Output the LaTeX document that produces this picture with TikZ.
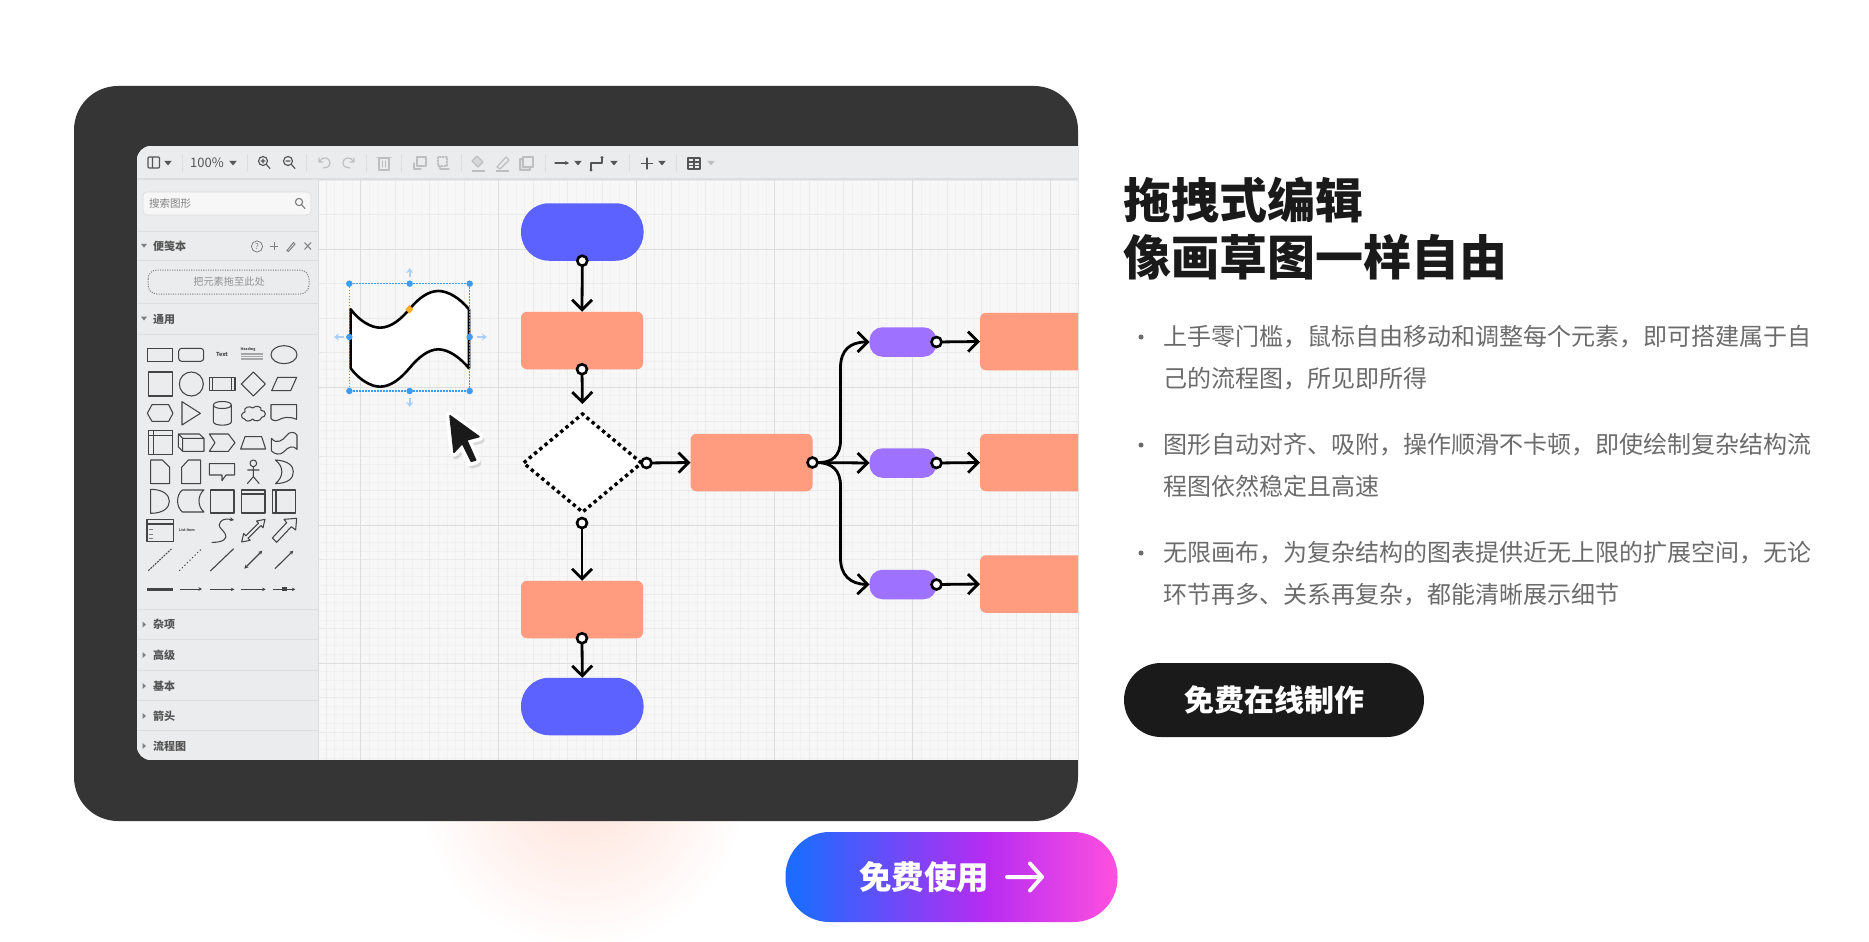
\documentclass[tikz,border=0pt]{standalone}
\usepackage{fontspec}
\usetikzlibrary{arrows.meta,shapes.geometric,shapes.misc}
\setmainfont{Noto Sans CJK SC}
\newcommand{\fs}[1]{\fontsize{#1}{#1}\selectfont}
\definecolor{panel}{HTML}{353535}
\definecolor{canvasbg}{HTML}{F7F7F7}
\definecolor{chrome}{HTML}{EBECED}
\definecolor{rule}{HTML}{DCDDDE}
\definecolor{gridA}{HTML}{F1F1F1}
\definecolor{gridB}{HTML}{EAEAEA}
\definecolor{gridC}{HTML}{DEDEDE}
\definecolor{fblue}{HTML}{5C62FF}
\definecolor{forange}{HTML}{FF9C7F}
\definecolor{fpurple}{HTML}{9E72FF}
\definecolor{selblue}{HTML}{3B9DF5}
\definecolor{ghost}{HTML}{A9D0FA}
\definecolor{ink}{HTML}{1A1A1A}
\definecolor{bodygrey}{HTML}{6B6B6B}
\definecolor{tbon}{HTML}{555555}
\definecolor{tboff}{HTML}{BDBEBF}
\definecolor{shp}{HTML}{444444}
\definecolor{gA}{HTML}{1F6BFF}
\definecolor{gB}{HTML}{B62CF2}
\definecolor{gC}{HTML}{FF50DF}
\pgfdeclarehorizontalshading{ctagrad}{100bp}{color(0bp)=(gA); color(27bp)=(gA); color(55bp)=(gB); color(75bp)=(gC); color(100bp)=(gC)}
\tikzset{
 flat/.style={rectangle,inner sep=0pt,outer sep=0pt,draw=none},
 startnode/.style={flat,fill=fblue,minimum width=122.5pt,minimum height=57.5pt,rounded corners=28pt},
 procnode/.style={flat,fill=forange,minimum width=122pt,minimum height=57.5pt,rounded corners=6pt},
 subnode/.style={flat,fill=fpurple,minimum width=67pt,minimum height=29.5pt,rounded corners=13pt},
 decnode/.style={diamond,shape aspect=1.22,inner sep=0pt,outer sep=0pt,fill=white,draw=black,line width=3.4pt,dash pattern=on 3.4pt off 3.4pt,minimum width=118pt,minimum height=98pt},
 port/.style={circle,fill=white,draw=black,line width=2.6pt,inner sep=0pt,outer sep=0pt,minimum size=10pt},
 conn/.style={line width=2.8pt,draw=black,line cap=round,line join=round,-{Straight Barb[length=10pt,width=20pt,line width=2.8pt]}},
 txt/.style={inner sep=0pt,outer sep=0pt},
 sechead/.style={txt,anchor=west,text=tbon,font=\fs{11}\bfseries},
 bodyline/.style={txt,anchor=west,text=bodygrey,font=\fs{24}},
 headline/.style={txt,anchor=west,text=ink,font=\fs{48}\bfseries},
 bulletdot/.style={circle,fill=bodygrey,inner sep=0pt,minimum size=5pt},
 handle/.style={circle,fill=selblue,inner sep=0pt,minimum size=6.5pt},
 sh/.style={draw=shp,line width=1.05pt,line join=round},
 sepline/.style={draw=rule,line width=1pt},
 icon/.style={line width=1.15pt,line cap=round,line join=round},
}
\newcommand{\tbdown}[3]{\fill[#3] (#1-3.8,#2-2.2) -- (#1+3.8,#2-2.2) -- (#1,#2+2.4) -- cycle;}
\newcommand{\secdown}[2]{\fill[#2] (144-3,#1-1.8) -- (144+3,#1-1.8) -- (144,#1+2) -- cycle;}
\newcommand{\secright}[1]{\fill[gray] (142.5,#1-3) -- (142.5,#1+3) -- (146,#1) -- cycle;}
\newcommand{\ghostarrow}[4]{\draw[ghost,line width=2pt,-{Stealth[length=5pt,width=7pt]}] (#1,#2) -- (#3,#4);}
\begin{document}
\begin{tikzpicture}[x=1pt,y=-1pt]
\useasboundingbox (0,0) rectangle (1869,942);
\fill[white] (0,0) rectangle (1869,942);
% glow
\node[circle,inner sep=0pt,minimum size=330pt,inner color=forange!30!white,outer color=white,draw=none] (glow) at (582,785) {};
% panel
\fill[panel,rounded corners=44pt] (74,86) rectangle (1078,821);
% screen
\begin{scope}
\clip[rounded corners=14pt] (137,146) -- (1100,146) -- (1100,760) -- (137,760) -- cycle;
\clip (137,146) rectangle (1078,760);
\fill[canvasbg] (137,146) rectangle (1078,760);
\begin{scope}
\clip (318,180) rectangle (1078,760);
\foreach \i in {-5,...,88}{\draw[gridA,line width=.7pt] (360.7+\i*8.625,180) -- (360.7+\i*8.625,760);}
\foreach \i in {-20,...,50}{\draw[gridA,line width=.7pt] (318,525+\i*8.625) -- (1078,525+\i*8.625);}
\foreach \i in {-1,...,21}{\draw[gridB,line width=.8pt] (360.7+\i*34.5,180) -- (360.7+\i*34.5,760);}
\foreach \i in {-10,...,7}{\draw[gridB,line width=.8pt] (318,525+\i*34.5) -- (1078,525+\i*34.5);}
\foreach \i in {0,...,5}{\draw[gridC,line width=.9pt] (360.7+\i*138,180) -- (360.7+\i*138,760);}
\foreach \i in {-2,...,1}{\draw[gridC,line width=1pt] (318,525+\i*138) -- (1078,525+\i*138);}
\end{scope}
% sidebar and toolbar
\fill[chrome] (137,146) rectangle (1078,179);
\fill[chrome] (137,179) rectangle (318,760);
\draw[rule,line width=1.5pt] (137,179) -- (1078,179);
\draw[rule,line width=1pt] (318.5,179) -- (318.5,760);
% flow nodes
\node[startnode] (b1) at (582.3,232) {};
\node[procnode] (o1) at (582,340.5) {};
\node[decnode] (d1) at (582.5,463) {};
\node[procnode] (o2) at (751.5,462.5) {};
\node[procnode] (o3) at (582,609.5) {};
\node[startnode] (b2) at (582.3,706.5) {};
\node[subnode] (u1) at (903,342) {};
\node[subnode] (u2) at (903,463) {};
\node[subnode] (u3) at (903,584.5) {};
\node[procnode] (r1) at (1041,341.5) {};
\node[procnode] (r2) at (1041,462.5) {};
\node[procnode] (r3) at (1041,584) {};
% ports
\node[port] (p1) at (b1.south) {};
\node[port] (p2) at (o1.south) {};
\node[port] (p3) at (646.5,463) {};
\node[port] (p4) at (582,523) {};
\node[port] (p5) at (o3.south) {};
\node[port] (p6) at (o2.east) {};
\node[port] (p7) at (u1.east) {};
\node[port] (p8) at (u2.east) {};
\node[port] (p9) at (u3.east) {};
% connectors
\draw[conn] (p1) -- (o1.north);
\draw[conn,shorten >=10pt] (p2) -- (d1.north);
\draw[conn] (p3) -- (o2.west);
\draw[conn] (p4) -- (o3.north);
\draw[conn] (p5) -- (b2.north);
\draw[conn] (p6) -- (u2.west);
\draw[conn] (p6.east) .. controls (832,463) and (840.5,456) .. (840.5,440) -- (840.5,368) .. controls (840.5,350) and (850,342) .. (u1.west);
\draw[conn] (p6.east) .. controls (832,463) and (840.5,470) .. (840.5,486) -- (840.5,558) .. controls (840.5,575) and (850,584) .. (u3.west);
\draw[conn] (p7) -- (r1.west);
\draw[conn] (p8) -- (r2.west);
\draw[conn] (p9) -- (r3.west);
% selected wave shape
\begin{scope}[shift={(330,260)},x=.33333pt,y=-.33333pt]
\draw[fill=white,draw=black,line width=2.6pt,line join=round] (62,148) .. controls (90,185) and (125,203) .. (150,203) .. controls (185,203) and (215,175) .. (238,148) .. controls (265,115) and (295,93) .. (325,93) .. controls (355,93) and (390,115) .. (417,148) -- (417,325) .. controls (390,292) and (355,268) .. (325,268) .. controls (295,268) and (265,292) .. (238,325) .. controls (215,352) and (185,380) .. (150,380) .. controls (125,380) and (90,362) .. (62,325) -- cycle;
\draw[selblue,line width=1.2pt,dash pattern=on 1.5pt off 1.5pt] (58,71) rectangle (419,393);
\foreach \nm/\hx/\hy in {ha/58/71,hb/239/71,hc/419/71,hd/58/231,he/419/231,hf/58/393,hg/239/393,hh/419/393}{\node[handle] (\nm) at (\hx,\hy) {};}
\fill[orange!75!yellow!85!white] (238,135) -- (250,148) -- (238,161) -- (226,148) -- cycle;
\ghostarrow{239}{50}{239}{24}
\ghostarrow{239}{415}{239}{441}
\ghostarrow{42}{231}{12}{231}
\ghostarrow{441}{231}{471}{231}
% cursor
\fill[black,opacity=.13,line join=round,draw=black,line width=7pt] (366,477) -- (453,540) -- (416,550) -- (443,610) -- (426,615) -- (403,560) -- (378,587) -- cycle;
\draw[fill=white,draw=white,line width=9pt,line join=round] (360,467) -- (447,530) -- (410,540) -- (437,600) -- (420,605) -- (397,550) -- (372,577) -- cycle;
\draw[fill=ink,draw=ink,line width=1.5pt,line join=round] (360,467) -- (447,530) -- (410,540) -- (437,600) -- (424,604) -- (397,550) -- (372,577) -- cycle;
\end{scope}
% toolbar
\draw[icon,tbon,rounded corners=1pt] (148,157) rectangle (159.5,168) (152.5,157) -- (152.5,168);
\tbdown{168}{163}{tbon}
\draw[sepline] (182,154) -- (182,172);
\node[txt,text=tbon,font=\fs{13}] (zoomtxt) at (207,163) {100\%};
\tbdown{233}{163}{tbon}
\draw[sepline] (247,154) -- (247,172);
\draw[icon,tbon] (263,161) circle (4.5) (266.5,164.5) -- (270,168.5) (261,161) -- (265,161) (263,159) -- (263,163);
\draw[icon,tbon] (288,161) circle (4.5) (291.5,164.5) -- (295,168.5) (286,161) -- (290,161);
\draw[sepline] (306,154) -- (306,172);
\draw[icon,tboff] (319,158) -- (319,162) -- (323,162) (319.5,161.5) .. controls (322,156) and (330,157) .. (330,163) .. controls (330,167) and (326,168) .. (323,168);
\draw[icon,tboff] (354,158) -- (354,162) -- (350,162) (353.5,161.5) .. controls (351,156) and (343,157) .. (343,163) .. controls (343,167) and (347,168) .. (350,168);
\draw[sepline] (366,154) -- (366,172);
\draw[icon,tboff] (379,158) rectangle (389,170) (377,157.5) -- (391,157.5) (382.5,161) -- (382.5,167) (385.5,161) -- (385.5,167);
\draw[sepline] (401,154) -- (401,172);
\draw[icon,tboff] (417,157) rectangle (426,166) (414,163) -- (414,169) -- (421,169);
\draw[icon,tboff,dash pattern=on 1.5pt off 1.5pt] (438,157) rectangle (447,166);
\draw[icon,tboff] (440,167) -- (440,169) -- (449,169);
\draw[sepline] (461,154) -- (461,172);
\draw[icon,tboff,fill=tboff!60] (472,161) -- (477,156) -- (483,162) -- (478,167) -- cycle;
\draw[tboff,line width=2.2pt] (472,171) -- (485,171);
\draw[icon,tboff] (497,167) -- (506,157) -- (509,160) -- (500,169) -- cycle;
\draw[tboff,line width=2.2pt] (496,171) -- (509,171);
\draw[icon,tboff,fill=tboff!50] (520,159) -- (520,170) -- (530,170) -- (530,159) -- cycle;
\draw[icon,tboff,fill=chrome] (523,157) rectangle (533,167);
\draw[sepline] (545,154) -- (545,172);
\draw[icon,tbon,-{Stealth[length=4pt,width=4pt]}] (555,163) -- (569,163);
\tbdown{578}{163}{tbon}
\draw[icon,tbon] (591,169) -- (591,163) -- (602,163) -- (602,158);
\fill[tbon] (591,170) circle (1.6) (602,157.5) circle (1.6);
\tbdown{614}{163}{tbon}
\draw[sepline] (629,154) -- (629,172);
\draw[icon,tbon] (647,158) -- (647,169) (641.5,163.5) -- (652.5,163.5);
\tbdown{662}{163}{tbon}
\draw[sepline] (676,154) -- (676,172);
\draw[icon,tbon] (688,158) rectangle (700,169) (688,162) -- (700,162) (694,158) -- (694,169) (688,165.5) -- (700,165.5);
\tbdown{711}{163}{tboff}
% sidebar
\fill[white!60!chrome,rounded corners=4pt,draw=rule,line width=.7pt] (143,192) rectangle (311,215);
\node[txt,anchor=west,text=gray,font=\fs{10.5}] (searchtxt) at (149,203.5) {搜索图形};
\draw[icon,gray] (299,202) circle (3.6) (301.8,205) -- (305,208.5);
\foreach \yy in {231,260,303,334,609,639,670,700,730}{\draw[rule,line width=1pt] (137,\yy) -- (318,\yy);}
\secdown{245.7}{gray}
\node[sechead] (notehead) at (153,246) {便笺本};
\draw[gray,line width=.8pt] (257,246.5) circle (5.6);
\node[txt,text=gray,font=\fs{8}] (qmark) at (257,246.5) {?};
\draw[gray,line width=1pt] (274,242) -- (274,250) (270,246) -- (278,246);
\draw[gray,line width=1pt] (287,250.5) -- (293.5,242.5) -- (295,244) -- (288.5,251.5) -- cycle;
\draw[gray,line width=1pt] (304.5,242.5) -- (311,249.5) (311,242.5) -- (304.5,249.5);
\draw[gray,line width=1pt,dash pattern=on 1.1pt off 1.3pt,rounded corners=9pt] (148,270) rectangle (309,294);
\node[txt,text=gray!85,font=\fs{10.2}] (droptxt) at (229,282) {把元素拖至此处};
\secdown{318.5}{gray}
\node[sechead] (commonhead) at (153,319) {通用};
\foreach \nm/\ty/\lab in {s1/624.5/杂项,s2/655/高级,s3/686/基本,s4/716/箭头,s5/746/流程图}{
 \secright{\ty}
 \node[sechead] (\nm) at (153,\ty) {\lab};
}
% shape palette
\begin{scope}[shift={(130,330)},x=.33333pt,y=-.33333pt]
\draw[sh] (52,55) rectangle (128,94);
\draw[sh,rounded corners=3pt] (146,55) rectangle (221,94);
\node[txt,text=shp,font=\fs{5.5}\bfseries] (paltext) at (276,74) {Text};
\node[txt,anchor=west,text=shp,font=\fs{3.5}\bfseries] (palhead) at (332,57) {Heading};
\foreach \ly in {69,74,79,84,89}{\draw[gray!70,line width=.5pt] (333,\ly) -- (398,\ly);}
\draw[sh] (462,74) ellipse (39 and 27);
\draw[sh] (55,126) rectangle (127,198);
\draw[sh] (184,162) circle [x radius=36,y radius=36];
\draw[sh] (238,143) rectangle (315,182) (248,143) -- (248,182) (305,143) -- (305,182);
\draw[sh] (370,126) -- (406,162) -- (370,198) -- (334,162) -- cycle;
\draw[sh] (425,182) -- (443,142) -- (500,142) -- (482,182) -- cycle;
\draw[sh] (52,250) -- (66,224) -- (116,224) -- (129,250) -- (116,274) -- (66,274) -- cycle;
\draw[sh] (156,215) -- (211,250) -- (156,285) -- cycle;
\draw[sh] (250,225) -- (250,275) .. controls (250,289) and (304,289) .. (304,275) -- (304,225) .. controls (304,211) and (250,211) .. (250,225) .. controls (250,239) and (304,239) .. (304,225);
\draw[sh] (345,268) .. controls (330,265) and (332,248) .. (345,246) .. controls (338,232) and (360,226) .. (368,234) .. controls (378,224) and (398,230) .. (393,241) .. controls (410,240) and (410,262) .. (395,262) .. controls (392,275) and (372,275) .. (368,267) .. controls (360,275) and (347,275) .. (345,268) -- cycle;
\draw[sh] (423,224) -- (500,224) -- (500,268) .. controls (475,258) and (460,262) .. (445,270) .. controls (435,275) and (425,270) .. (423,265) -- cycle;
\draw[sh] (55,302) rectangle (127,373) (70,302) -- (70,373) (55,317) -- (127,317);
\draw[sh] (158,325) rectangle (222,364) (158,325) -- (145,312) -- (208,312) -- (222,325) (145,312) -- (145,351) -- (158,364);
\draw[sh] (238,312) -- (295,312) -- (315,338) -- (295,364) -- (238,364) -- (255,338) -- cycle;
\draw[sh] (332,357) -- (345,320) -- (395,320) -- (407,357) -- cycle;
\draw[sh] (424,325) .. controls (440,345) and (460,330) .. (468,318) .. controls (478,303) and (495,305) .. (501,315) -- (501,358) .. controls (490,345) and (475,350) .. (462,365) .. controls (450,378) and (432,372) .. (424,362) -- cycle;
\draw[sh] (62,390) -- (97,390) -- (119,412) -- (119,461) -- (62,461) -- cycle;
\draw[sh] (155,412) -- (175,390) -- (212,390) -- (212,461) -- (155,461) -- cycle;
\draw[sh] (238,401) -- (314,401) -- (314,435) -- (288,435) -- (276,452) -- (276,435) -- (238,435) -- cycle;
\draw[sh] (370,400) circle [x radius=10,y radius=10] (370,410) -- (370,440) (352,420) -- (388,420) (352,461) -- (370,440) -- (388,461);
\draw[sh] (436,390) .. controls (475,392) and (490,408) .. (490,425) .. controls (490,445) and (475,460) .. (436,461) .. controls (462,440) and (462,410) .. (436,390) -- cycle;
\draw[sh] (62,478) .. controls (100,478) and (118,495) .. (118,514) .. controls (118,533) and (100,550) .. (62,550) -- cycle;
\draw[sh] (157,480) -- (222,480) .. controls (202,495) and (202,530) .. (222,546) -- (157,546) .. controls (138,530) and (138,495) .. (157,480) -- cycle;
\draw[sh] (241,480) rectangle (312,549);
\draw[sh] (334,480) rectangle (405,549) (334,492) -- (405,492);
\draw[sh] (428,480) rectangle (497,549) (438,480) -- (438,549);
\draw[sh] (51,568) rectangle (130,635) (51,582) -- (130,582);
\foreach \ly in {598,612,626}{\draw[gray,line width=.8pt] (56,\ly) -- (70,\ly);}
\node[txt,text=shp,font=\fs{3.5}\bfseries] (pallist) at (171,601) {List Item};
\draw[sh,-{Stealth[length=4pt,width=4pt]}] (245,637) .. controls (280,638) and (295,625) .. (285,610) .. controls (275,595) and (260,590) .. (272,575) .. controls (280,565) and (295,567) .. (312,570);
\draw[sh] (405,568) -- (398.9,593.3) -- (392.7,586.8) -- (354.3,624.4) -- (360.5,630.9) -- (335,636) -- (341.1,610.7) -- (347.3,617.2) -- (385.7,579.6) -- (379.5,573.1) -- cycle;
\draw[sh] (500,565) -- (497,600) -- (484,590) -- (440,637) -- (427,624) -- (470,578) -- (462,568) -- cycle;
\draw[shp,line width=1pt,dash pattern=on 2pt off 1pt] (55,722) -- (124,657);
\draw[shp,line width=1pt,dash pattern=on 1.2pt off 2.4pt] (148,722) -- (214,657);
\draw[shp,line width=1.1pt] (241,723) -- (311,656);
\draw[shp,line width=1.1pt,{Stealth[length=4pt,width=4pt]}-{Stealth[length=4pt,width=4pt]}] (343,716) -- (397,662);
\draw[shp,line width=1.1pt,-{Stealth[length=4pt,width=4pt]}] (435,716) -- (490,662);
\draw[shp,line width=3pt] (52,777) -- (128,777);
\draw[shp,line width=.9pt,-{Stealth[length=3.5pt,width=3.5pt]}] (151,777) -- (216,777);
\draw[shp,line width=.9pt,-{Stealth[length=3.5pt,width=3.5pt]}] (240,778) -- (313,778);
\draw[shp,line width=.9pt,-{Stealth[length=3.5pt,width=3.5pt]}] (334,778) -- (407,778);
\draw[shp,line width=.9pt,-{Stealth[length=3.5pt,width=3.5pt]}] (430,778) -- (496,778);
\fill[shp] (456,772) rectangle (471,784);
\end{scope}
\end{scope}
% right column
\node[headline] (h1) at (1123.5,200) {拖拽式编辑};
\node[headline] (h2) at (1123.5,257) {像画草图一样自由};
\node[bulletdot] (d1b) at (1141,337) {};
\node[bulletdot] (d2b) at (1141,445) {};
\node[bulletdot] (d3b) at (1141,553) {};
\node[bodyline] (l1) at (1163.5,337) {上手零门槛，鼠标自由移动和调整每个元素，即可搭建属于自};
\node[bodyline] (l2) at (1163.5,379) {己的流程图，所见即所得};
\node[bodyline] (l3) at (1163.5,445) {图形自动对齐、吸附，操作顺滑不卡顿，即使绘制复杂结构流};
\node[bodyline] (l4) at (1163.5,486) {程图依然稳定且高速};
\node[bodyline] (l5) at (1163.5,553) {无限画布，为复杂结构的图表提供近无上限的扩展空间，无论};
\node[bodyline] (l6) at (1163.5,595) {环节再多、关系再复杂，都能清晰展示细节};
\node[flat,fill=ink,minimum width=300pt,minimum height=74pt,rounded corners=37pt,text=white,font=\fs{30}\bfseries] (cta) at (1274,700) {免费在线制作};
\node[flat,shading=ctagrad,minimum width=332pt,minimum height=90pt,rounded corners=44pt] (use) at (951.5,877) {};
\node[txt,text=white,font=\fs{32.5}\bfseries] (usetxt) at (924,877) {免费使用};
\coordinate (ua) at (1007,877);
\coordinate (ub) at (1042,877);
\draw[white,line width=4pt,line cap=round,line join=round] (ua) -- (ub) (1030,863.5) -- (ub) -- (1030,890.5);
\end{tikzpicture}
\end{document}
